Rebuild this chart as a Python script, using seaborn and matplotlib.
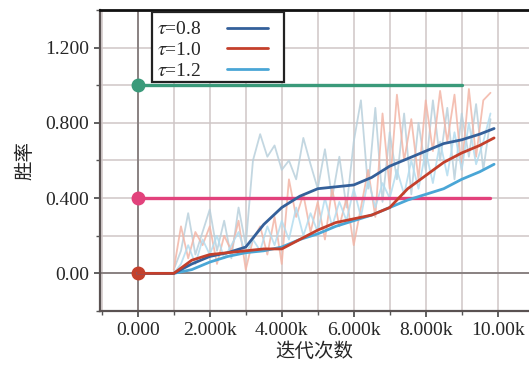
import numpy as np
import pandas as pd
import matplotlib
matplotlib.use("Agg")
import matplotlib.pyplot as plt
from matplotlib.patches import Rectangle
import seaborn as sns

# smoothed curves
steps_smooth = [0, 500, 1000, 1500, 2000, 2500, 3000, 3500, 4000, 4500, 5000,
                5500, 6000, 6500, 7000, 7500, 8000, 8500, 9000, 9500, 9900]
smooth_08 = [0, 0, 0, 0.05, 0.09, 0.11, 0.14, 0.26, 0.35, 0.41, 0.45,
             0.46, 0.47, 0.51, 0.57, 0.61, 0.65, 0.69, 0.71, 0.74, 0.77]
smooth_10 = [0, 0, 0, 0.07, 0.10, 0.11, 0.12, 0.13, 0.13, 0.18, 0.23,
             0.27, 0.29, 0.31, 0.35, 0.45, 0.52, 0.59, 0.64, 0.68, 0.72]
smooth_12 = [0, 0, 0, 0.02, 0.06, 0.09, 0.11, 0.12, 0.14, 0.18, 0.21,
             0.25, 0.28, 0.31, 0.35, 0.39, 0.42, 0.45, 0.50, 0.54, 0.58]

# raw (unsmoothed) curves
steps_raw = list(range(1000, 10000, 200))
raw_08 = [0.02, 0.12, 0.32, 0.10, 0.22, 0.34, 0.12, 0.28, 0.08, 0.35,
          0.15, 0.60, 0.74, 0.62, 0.68, 0.55, 0.60, 0.50, 0.72, 0.58,
          0.45, 0.66, 0.40, 0.62, 0.35, 0.70, 0.92, 0.45, 0.88, 0.38,
          0.75, 0.50, 0.85, 0.42, 0.80, 0.55, 0.92, 0.60, 0.88, 0.50,
          0.85, 0.62, 0.90, 0.55, 0.82]
raw_10 = [0.02, 0.25, 0.08, 0.22, 0.15, 0.25, 0.05, 0.20, 0.12, 0.28,
          0.02, 0.18, 0.25, 0.10, 0.30, 0.05, 0.50, 0.30, 0.42, 0.22,
          0.38, 0.18, 0.45, 0.25, 0.40, 0.15, 0.35, 0.55, 0.30, 0.85,
          0.45, 0.95, 0.60, 0.82, 0.50, 0.92, 0.65, 0.97, 0.70, 0.95,
          0.55, 0.98, 0.62, 0.92, 0.96]
raw_12 = [0.00, 0.05, 0.15, 0.05, 0.18, 0.10, 0.20, 0.08, 0.15, 0.22,
          0.10, 0.18, 0.12, 0.25, 0.15, 0.28, 0.18, 0.35, 0.20, 0.32,
          0.22, 0.40, 0.25, 0.38, 0.28, 0.45, 0.30, 0.50, 0.35, 0.48,
          0.40, 0.55, 0.42, 0.60, 0.45, 0.65, 0.48, 0.70, 0.52, 0.75,
          0.55, 0.80, 0.58, 0.70, 0.85]

labels = [r"$\tau$=0.8", r"$\tau$=1.0", r"$\tau$=1.2"]
colors = ["#34609a", "#c4402c", "#4aa6d6"]
raw_colors = ["#b9d0dc", "#f3b5a6", "#b3dcef"]

# reference levels: (value, end step, colour)
ref_levels = [1.0, 0.4, 0.0]
ref_ends = [9000, 9800, 0]
ref_colors = ["#3a9a7a", "#e2427c", "#c4402c"]

yticks = [0.0, 0.4, 0.8, 1.2]
ytick_labels = ["0.00", "0.400", "0.800", "1.200"]
xticks = [0, 2000, 4000, 6000, 8000, 10000]
xtick_labels = ["0.000", "2.000k", "4.000k", "6.000k", "8.000k", "10.00k"]

sns.set_style("whitegrid")
plt.rcParams["font.family"] = ["Liberation Serif", "DejaVu Serif"]
plt.rcParams["mathtext.fontset"] = "stix"

fig = plt.figure(figsize=(5.29, 3.65), dpi=100)
ax = fig.add_axes([100 / 529, 54 / 365, 429 / 529, 301 / 365])

df_raw = pd.DataFrame({
    "step": steps_raw * 3,
    "rate": raw_08 + raw_10 + raw_12,
    "tau": [labels[0]] * len(steps_raw) + [labels[1]] * len(steps_raw) + [labels[2]] * len(steps_raw),
})
df_smooth = pd.DataFrame({
    "step": steps_smooth * 3,
    "rate": smooth_08 + smooth_10 + smooth_12,
    "tau": [labels[0]] * len(steps_smooth) + [labels[1]] * len(steps_smooth) + [labels[2]] * len(steps_smooth),
})

ax.axhline(0, color="#8a8282", lw=1.4, zorder=1)
ax.axvline(0, color="#8a8282", lw=1.4, zorder=1)

sns.lineplot(data=df_raw, x="step", y="rate", hue="tau", palette=dict(zip(labels, raw_colors)),
             lw=1.3, alpha=0.85, legend=False, ax=ax, zorder=2)

# reference lines with a dot at the start
for lvl, end, c in zip(ref_levels, ref_ends, ref_colors):
    ax.plot([0, end], [lvl, lvl], color=c, lw=2.4, marker="o", ms=9, markevery=[0], zorder=3)

# draw τ=1.2 first so τ=1.0 sits on top like the original
order = [labels[2], labels[0], labels[1]]
for lab in order:
    sub = df_smooth[df_smooth["tau"] == lab]
    sns.lineplot(data=sub, x="step", y="rate", color=colors[labels.index(lab)], lw=2.0,
                 ax=ax, zorder=4, label=lab)

ax.set_xlim(-1050, 10870)
ax.set_ylim(-0.2, 1.4)
ax.set_xticks(np.arange(-1000, 11000, 1000), minor=True)
ax.set_yticks(np.arange(-0.2, 1.41, 0.2), minor=True)
ax.set_xticks(xticks)
ax.set_xticklabels(xtick_labels)
ax.set_yticks(yticks)
ax.set_yticklabels(ytick_labels)
ax.grid(which="both", color="#cfc6c6", lw=1.1)
ax.tick_params(axis="both", which="major", labelsize=14, length=4, width=1.2,
               direction="out", color="#444444", pad=4, bottom=True, left=True)
ax.tick_params(axis="both", which="minor", length=3, width=1.0, direction="out",
               color="#555555", bottom=True, left=True)

for side in ["left", "bottom"]:
    ax.spines[side].set_color("#5a5252")
    ax.spines[side].set_linewidth(1.6)
ax.spines["top"].set_color("#111111")
ax.spines["top"].set_linewidth(2.0)
ax.spines["right"].set_visible(False)

ax.set_xlabel("迭代次数", family=["Noto Sans CJK SC"], fontsize=14, labelpad=1)
ax.set_ylabel("胜率", family=["Noto Sans CJK SC"], fontsize=14, labelpad=7)

# legend box is wider than its content in the original, so draw the frame separately
frame = Rectangle((0.1212, 0.7608), 0.3077, 0.2326, transform=ax.transAxes,
                  facecolor="white", edgecolor="#222222", lw=1.6, zorder=9)
ax.add_patch(frame)

handles, labs = ax.get_legend_handles_labels()
hmap = dict(zip(labs, handles))
leg = ax.legend([hmap[l] for l in labels], labels, loc="upper left",
                bbox_to_anchor=(0.112, 0.9934), markerfirst=False, fontsize=14,
                frameon=False, borderpad=0.45, labelspacing=0.16, handlelength=2.1,
                handletextpad=1.3, borderaxespad=0)
leg.set_zorder(10)

fig.savefig("out.png", dpi=100)
